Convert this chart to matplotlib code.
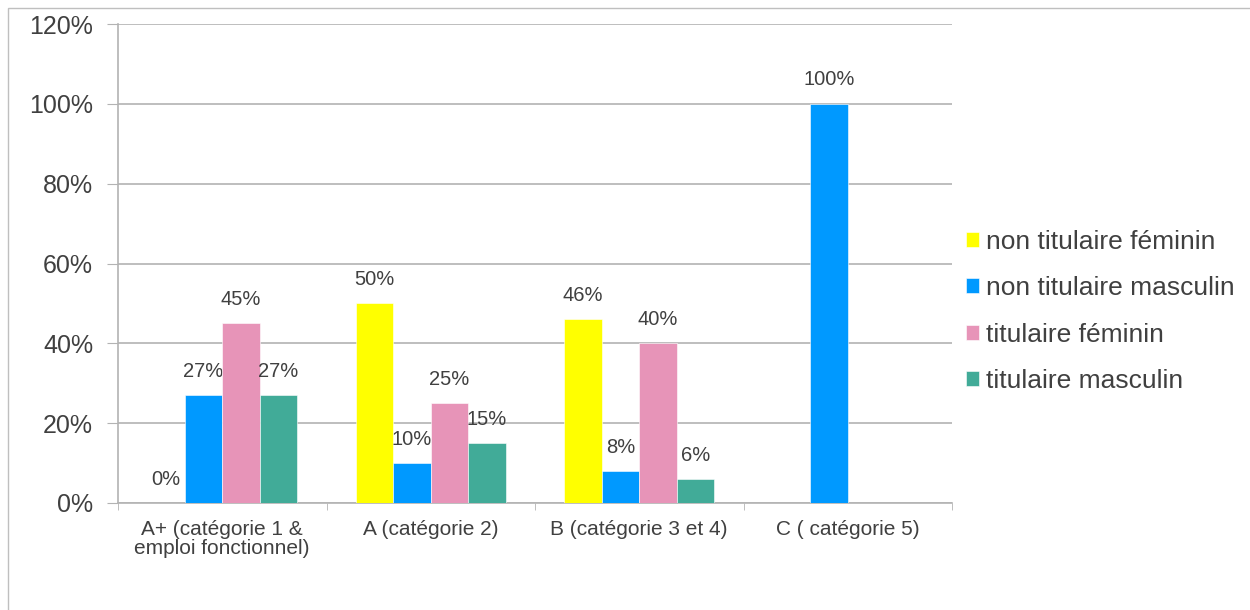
import numpy as np
import matplotlib
matplotlib.use("Agg")
import matplotlib.pyplot as plt
from matplotlib.patches import Rectangle

plt.rcParams['font.family'] = ['Liberation Sans', 'DejaVu Sans']

# Répartition des effectifs par catégorie
categories = ["A+ (catégorie 1 &\nemploi fonctionnel)", "A (catégorie 2)",
              "B (catégorie 3 et 4)", "C ( catégorie 5)"]
series = ["non titulaire féminin", "non titulaire masculin",
          "titulaire féminin", "titulaire masculin"]
non_tit_fem = [0, 50, 46, np.nan]
non_tit_masc = [27, 10, 8, 100]
tit_fem = [45, 25, 40, np.nan]
tit_masc = [27, 15, 6, np.nan]
colors = ["#FFFF00", "#0099FF", "#E794B8", "#41AB98"]
yticks = [0, 20, 40, 60, 80, 100, 120]

values = [non_tit_fem, non_tit_masc, tit_fem, tit_masc]
text_col = "#404040"
grid_col = "#B3B3B3"

fig = plt.figure(figsize=(12.5, 6.1), dpi=100)
ax = fig.add_axes([118 / 1250, 1 - 503 / 610, (952 - 118) / 1250, (503 - 24) / 610])

x = np.arange(len(categories))
w = 0.18
for i, (vals, name, col) in enumerate(zip(values, series, colors)):
    pos = x + (i - 1.5) * w
    v = np.array(vals, dtype=float)
    ax.bar(pos, np.nan_to_num(v), w, color=col, label=name, zorder=3,
           edgecolor="white", linewidth=0.4)
    for px, pv in zip(pos, v):
        if np.isnan(pv):
            continue
        ax.text(px, pv + 3.6, f"{pv:.0f}%", ha="center", va="bottom",
                fontsize=14.5, color=text_col)

ax.set_xlim(-0.5, len(categories) - 0.5)
ax.set_ylim(0, 120)
ax.set_yticks(yticks)
ax.set_yticklabels([f"{t}%" for t in yticks], fontsize=18, color=text_col)
ax.set_xticks(x)
ax.set_xticklabels(categories, fontsize=15, color=text_col, linespacing=1.05)
ax.set_xticks(np.arange(len(categories) + 1) - 0.5, minor=True)
ax.tick_params(axis="x", which="major", length=0, pad=12)
ax.tick_params(axis="x", which="minor", length=5, color=grid_col, direction="out")
ax.tick_params(axis="y", length=8, color=grid_col, pad=10)

ax.grid(axis="y", color=grid_col, linewidth=1.2, zorder=0)
for s in ["top", "right"]:
    ax.spines[s].set_visible(False)
for s in ["left", "bottom"]:
    ax.spines[s].set_color(grid_col)
    ax.spines[s].set_linewidth(1.2)

leg = ax.legend(loc="center left", bbox_to_anchor=(0.988, 0.40), frameon=False,
                fontsize=19, handlelength=0.5, handleheight=0.5,
                handletextpad=0.25, labelspacing=0.85, labelcolor=text_col)

# cadre de la zone graphique
fig.patches.append(Rectangle((8 / 1250, -0.1), 1.2, 1 - 8 / 610 + 0.1,
                             transform=fig.transFigure, fill=False,
                             edgecolor="#BFBFBF", linewidth=1))

fig.savefig("out.png", dpi=100)
